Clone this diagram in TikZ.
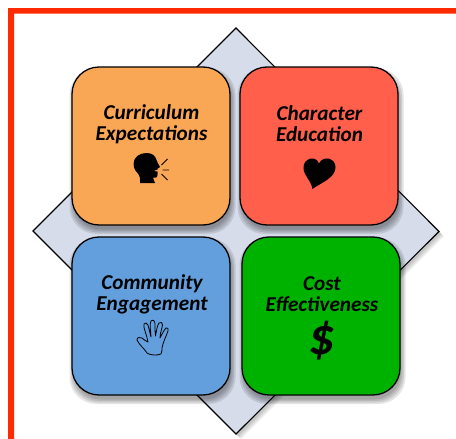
\documentclass[tikz,border=0pt]{standalone}
\usepackage{fontspec}
\setmainfont{Carlito}
\usetikzlibrary{calc}
\definecolor{frame}{HTML}{FF2A00}
\definecolor{diam}{HTML}{D6DCEA}
\definecolor{corange}{HTML}{FAA755}
\definecolor{cred}{HTML}{FF5F4B}
\definecolor{cblue}{HTML}{629FDC}
\definecolor{cgreen}{HTML}{00B200}
\tikzset{
  tile/.style={draw=black,line width=1.3pt,rounded corners=27pt,minimum width=158pt,minimum height=158pt,inner sep=0pt,outer sep=0pt},
  softshadow/.style={fill=black,fill opacity=.1,draw=none,rounded corners=27pt,minimum width=#1,minimum height=#1,inner sep=0pt,outer sep=0pt},
  caption/.style={font=\fontsize{21.2}{21.2}\selectfont\bfseries\itshape,align=center,inner sep=0pt,text=black},
  edgeline/.style={draw=black,line width=1.1pt,line join=miter}
}
\newcommand{\tileshadow}[2]{%
  \foreach \s in {166,163,160,157}{\node[softshadow=\s pt] at (#1+1.5,#2+5) {};}}
\begin{document}
\begin{tikzpicture}[x=1pt,y=-1pt]
\useasboundingbox (0,0) rectangle (456,439);
\fill[white] (0,0) rectangle (456,439);
% red frame (top and left)
\fill[frame] (8,439) -- (8,8) -- (456,8) -- (456,13.5) -- (14,13.5) -- (14,439) -- cycle;
% diamond
\coordinate (dt) at (236,28);
\coordinate (dr) at (439,231.5);
\coordinate (db) at (236,434);
\coordinate (dl) at (33,231);
\foreach \o in {5,4,3,2}{\fill[black,fill opacity=.06] ($(dt)+(\o,\o)$) -- ($(dr)+(\o,\o)$) -- ($(db)+(\o,\o)$) -- ($(dl)+(\o,\o)$) -- cycle;}
\draw[edgeline,fill=diam] (dt) -- (dr) -- (db) -- (dl) -- cycle;
% tile shadows
\tileshadow{151}{146}
\tileshadow{319}{146}
\tileshadow{151}{316}
\tileshadow{321}{316}
% tiles
\node[tile,fill=corange] (ce) at (151,146) {};
\node[tile,fill=cred] (ch) at (319,146) {};
\node[tile,fill=cblue] (co) at (151,316) {};
\node[tile,fill=cgreen] (cs) at (321,316) {};
% captions
\node[caption] (t1) at (151.5,124) {Curriculum\\Expectations};
\node[caption] (t2) at (319.5,124) {Character\\Education};
\node[caption] (t3) at (152,294) {Community\\Engagement};
\node[caption] (t4) at (322,294) {Cost\\Effectiveness};
% speaking head
\begin{scope}[shift={(133.5,153)}]
\fill[black] (6.5,30) .. controls (7,26) and (6.5,23) .. (4,20) .. controls (1,17) and (0,14) .. (0,11) .. controls (0,4) and (6,0) .. (13,0) .. controls (19,0) and (22,3) .. (23,7) .. controls (23.5,9) and (25,11) .. (26.5,14) .. controls (26.5,15) and (24.5,15) .. (24,15.5) -- (24,16.5) -- (20,18) -- (24,18.5) -- (24,21.5) .. controls (25,24) and (23,25) .. (20,24.5) .. controls (19,25) and (21,28) .. (21.5,30) -- cycle;
\draw[black,line width=.9pt] (28,12) -- (34,6) (29,17) -- (35.5,17) (28,21) -- (34,27);
\end{scope}
% heart
\fill[black] (312.5,189) .. controls (311,180) and (303.5,176) .. (303.5,167.5) .. controls (303.5,158) and (316,155) .. (319,163.5) .. controls (323,155) and (335.5,158) .. (335.5,167) .. controls (335.5,178) and (322,182) .. (312.5,189) -- cycle;
% hand
\begin{scope}[shift={(137,320)},line width=.8pt,line join=round,line cap=round]
\draw[black] (10,33) .. controls (7,28) and (3,26) .. (0,20) .. controls (0,17) and (3,17) .. (5,18) .. controls (7,19) and (9,22) .. (11,22)
 .. controls (10,15) and (6,8) .. (7,4) .. controls (8,2) and (10,3) .. (11,5) .. controls (12,9) and (13,13) .. (14,17)
 .. controls (14,11) and (12,4) .. (14,1) .. controls (16,-1) and (18,1) .. (18,4) .. controls (18,8) and (18,12) .. (18.5,16)
 .. controls (19.5,11) and (20,6) .. (22,3) .. controls (24,1) and (26,3) .. (25.5,5) .. controls (25,9) and (23,13) .. (23,18)
 .. controls (25,14) and (27,10) .. (29,8) .. controls (31,7) and (31.5,9) .. (31,11) .. controls (29,17) and (26,22) .. (25,28) .. controls (25,30) and (25,32) .. (24,34) .. controls (21,35.5) and (13,35.5) .. (10,33) -- cycle;
\end{scope}
% dollar
\node[font=\fontsize{52}{52}\selectfont\bfseries\itshape,inner sep=0pt] (dollar) at (322,341) {\$};
\end{tikzpicture}
\end{document}
